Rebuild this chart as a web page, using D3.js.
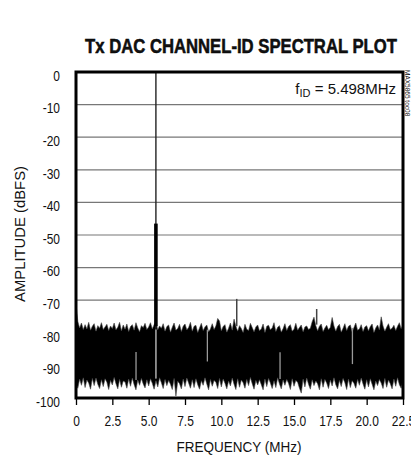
<!DOCTYPE html>
<html><head><meta charset="utf-8">
<script src="https://cdn.jsdelivr.net/npm/d3@7"></script>
<style>
html,body{margin:0;padding:0;background:#fff;}
svg{display:block;}
text{font-family:"Liberation Sans",Arial,sans-serif;fill:#111;}
</style></head>
<body><svg id="c" width="411" height="459"></svg>
<script>
// ---------- data ----------
const title = "Tx DAC CHANNEL-ID SPECTRAL PLOT";
const xLabel = "FREQUENCY (MHz)";
const yLabel = "AMPLITUDE (dBFS)";
const xTicks = [0, 2.5, 5.0, 7.5, 10.0, 12.5, 15.0, 17.5, 20.0, 22.5];
const xTickLabels = ["0","2.5","5.0","7.5","10.0","12.5","15.0","17.5","20.0","22.5"];
const yTicks = [0,-10,-20,-30,-40,-50,-60,-70,-80,-90,-100];
const yTickLabels = ["0","-10","-20","-30","-40","-50","-60","-70","-80","-90","-100"];
const freqStep = 0.125; // MHz between noise samples
// noise floor upper envelope (dBFS), 0 .. 22.5 MHz
const noiseTop = [
-71,-76.5,-78.5,-77,-79,-77.5,-78.8,-76.8,-79.2,-78,-77.2,-79.5,-77.8,-78.6,-76.9,-79,-78.2,-77.4,-79.3,-77.9,
-78.7,-77,-79.1,-78.3,-76.8,-79.4,-77.6,-78.9,-77.3,-79.6,-78.1,-77.5,-79.2,-76.9,-78.5,-79.7,-77.8,-78.4,-77.1,-79,
-78.2,-76.9,-78.8,-77.5,-76.7,-79.1,-77.9,-78.6,-77.2,-79.5,-78.1,-77.6,-79.8,-78.3,-77,-79.2,-78.7,-77.4,-79.6,-78,
-77.3,-79.1,-78.4,-76.8,-79.5,-78,-77.7,-79.9,-78.5,-77.1,-79.3,-78.2,-77.6,-79.7,-78.8,-77.2,-79,-77.9,-75.6,-76.4,
-79.4,-78.1,-77.5,-79.8,-78.6,-77,-79.2,-75.8,-78,-79.5,-77.8,-78.7,-79.9,-77.4,-78.9,-79.3,-77.1,-78.4,-79.7,-78.2,
-77.6,-79.4,-78.8,-77.3,-79.9,-78,-77.7,-79.1,-78.5,-76.9,-79.6,-78.3,-77.8,-79.8,-78.7,-77.2,-79.3,-78.1,-77.5,-79.5,
-78.9,-77.1,-79.2,-78.4,-77.6,-79.7,-78.2,-77.9,-79,-78.6,-76.6,-75.2,-77.8,-79.4,-78,-77.3,-79.6,-78.5,-77.7,-79.1,
-78.3,-75.3,-77.9,-79.5,-78.1,-77.4,-79.8,-78.6,-77.2,-79.3,-78,-77.6,-79.7,-78.4,-77,-79.2,-78.8,-77.5,-79.6,-78.2,
-77.8,-79.4,-78.1,-77.3,-79.9,-78.5,-77.6,-79.1,-75.1,-77.9,-79.5,-78.3,-77.2,-79,-78.6,-77.7,-79.3,-78,-76.9,-78.8,-77.5
];
// noise floor lower envelope (dBFS)
const noiseBottom = [
-95.5,-97,-94.2,-96.1,-93.8,-96.8,-94.5,-95.4,-97.3,-94,-96.2,-93.9,-95.8,-97.1,-94.4,-96.5,-94.1,-95.2,-97.4,-94.6,
-96,-93.7,-95.6,-97.2,-94.3,-96.7,-94.8,-95.1,-97,-94.2,-96.4,-93.9,-95.9,-97.5,-94.5,-96.1,-94,-95.7,-96.9,-94.4,
-96.3,-94.1,-95.5,-97.3,-94.7,-96.6,-93.8,-95.3,-97.1,-94.3,-96.2,-94.6,-95.8,-97.4,-94,-99.4,-94.9,-95.6,-97.2,-94.2,
-96.5,-93.9,-95.4,-97,-94.4,-96.8,-94.1,-95.9,-97.3,-94.7,-96.1,-93.8,-95.7,-97.5,-94.3,-96.4,-94.6,-95.2,-97.1,-94,
-96.6,-94.2,-95.5,-97.2,-94.8,-96.3,-93.9,-95.8,-97.4,-94.1,-96.7,-94.5,-95.3,-97,-94.3,-96.2,-93.7,-95.6,-97.3,-94.6,
-96,-94.4,-95.9,-97.5,-94.2,-96.5,-94,-95.4,-97.1,-94.7,-96.8,-93.8,-95.7,-97.2,-94.5,-96.1,-94.3,-95.5,-97.4,-94.1,
-96.4,-94.6,-95.2,-97,-98.5,-94.2,-96.6,-93.9,-95.8,-97.3,-94.4,-96.2,-94.8,-95.6,-97.5,-94.1,-96.7,-94.3,-95.4,-97.1,
-94.5,-96.3,-93.8,-95.9,-97.2,-94.6,-96.5,-94,-95.3,-97.4,-94.2,-96.8,-94.7,-95.5,-97,-94.3,-96.1,-93.9,-95.7,-97.3,
-94.4,-96.6,-94.1,-95.8,-97.5,-94.8,-96.2,-94.3,-95.4,-97.1,-94,-96.7,-94.5,-95.6,-97.2,-94.2,-96.4,-93.8,-95.9,-97,-94.6
];
// carrier tone
const toneFreq = 5.498, toneLevel = 0, toneSkirt = -46.5, toneBase = -79;
// spurs above the floor
const spurFreq = [11.06, 16.56];
const spurBase = [-78, -77.5];
const spurPeak = [-69.6, -72.7];
// lighter streaks inside the floor
const streakFreq = [4.13, 5.498, 9.04, 14.04, 19.02];
const streakTop = [-85.9, -79, -79, -86, -78.5];
const streakBottom = [-94.5, -94, -88.8, -94.2, -89.6];
const annotation = {f:"f", sub:"ID", rest:" = 5.498MHz"};
const code = "MAX5865 toc08";

// ---------- chart ----------
const svg = d3.select("#c");
const L = 76, R = 403, T = 72, B = 398;
const x = d3.scaleLinear().domain([0, 22.5]).range([L, R]);
const y = d3.scaleLinear().domain([-100, 0]).range([B, T]);

function fitText(sel, cx, cy, width, rot) {
  const len = sel.node().getComputedTextLength();
  const s = width / len;
  sel.attr("transform", `translate(${cx},${cy})` + (rot ? ` rotate(${rot})` : "") + ` scale(${s},1)`);
}

// gridlines
svg.append("g").selectAll("line").data(yTicks.filter(d => d > -100 && d < 0)).join("line")
  .attr("x1", L).attr("x2", R).attr("y1", d => y(d)).attr("y2", d => y(d))
  .attr("stroke", "#777").attr("stroke-width", 1.2);

// noise floor
const pts = noiseTop.map((t, i) => ({f: i * freqStep, t, b: noiseBottom[i]}));
const area = d3.area().x(d => x(d.f)).y0(d => y(d.b)).y1(d => y(d.t));
svg.append("path").datum(pts).attr("d", area).attr("fill", "#000")
  .attr("stroke", "#444").attr("stroke-width", 0.6);

// streaks
svg.append("g").selectAll("line").data(streakFreq).join("line")
  .attr("x1", d => x(d)).attr("x2", d => x(d))
  .attr("y1", (d, i) => y(streakTop[i])).attr("y2", (d, i) => y(streakBottom[i]))
  .attr("stroke", "#9a9a9a").attr("stroke-width", 1.3);

// spurs
svg.append("g").selectAll("line").data(spurFreq).join("line")
  .attr("x1", d => x(d)).attr("x2", d => x(d))
  .attr("y1", (d, i) => y(spurBase[i])).attr("y2", (d, i) => y(spurPeak[i]))
  .attr("stroke", "#444").attr("stroke-width", 1.5);

// tone
svg.append("line").attr("x1", x(toneFreq)).attr("x2", x(toneFreq))
  .attr("y1", y(toneBase)).attr("y2", y(toneLevel)).attr("stroke", "#222").attr("stroke-width", 1.4);
svg.append("line").attr("x1", x(toneFreq)).attr("x2", x(toneFreq))
  .attr("y1", y(toneBase + 1)).attr("y2", y(toneSkirt)).attr("stroke", "#000").attr("stroke-width", 3.6);
svg.append("line").attr("x1", x(toneFreq)).attr("x2", x(toneFreq))
  .attr("y1", y(streakTop[1])).attr("y2", y(streakBottom[1])).attr("stroke", "#9a9a9a").attr("stroke-width", 1.2);

// frame
svg.append("rect").attr("x", L).attr("y", T).attr("width", R - L).attr("height", B - T)
  .attr("fill", "none").attr("stroke", "#000").attr("stroke-width", 3);

// x axis
const xa = svg.append("g").attr("transform", `translate(0,${B + 1})`)
  .call(d3.axisBottom(x).tickValues(xTicks).tickSize(6).tickPadding(10)
    .tickFormat((d, i) => xTickLabels[i]));
xa.select(".domain").remove();
xa.selectAll(".tick line").attr("stroke", "#000").attr("stroke-width", 1.3);
xa.selectAll(".tick text").attr("font-size", 15).attr("fill", "#111")
  .attr("font-family", "Liberation Sans, Arial, sans-serif")
  .attr("transform", "scale(0.8,1)").attr("x", 0).attr("dy", "0.72em");

// y axis labels
const ya = svg.append("g").attr("transform", `translate(${L},0)`)
  .call(d3.axisLeft(y).tickValues(yTicks).tickSize(0).tickPadding(0)
    .tickFormat((d, i) => yTickLabels[i]));
ya.select(".domain").remove();
ya.selectAll(".tick text").attr("font-size", 15).attr("fill", "#111")
  .attr("font-family", "Liberation Sans, Arial, sans-serif")
  .attr("x", 0).attr("transform", "translate(-16,3.5) scale(0.8,1)");

// title
const tt = svg.append("text").attr("text-anchor", "middle")
  .attr("font-size", 20).attr("font-weight", "bold").attr("stroke", "#000").attr("stroke-width", 0.5)
  .text(title);
fitText(tt, 241, 53, 312);

// axis titles
const xt = svg.append("text").attr("text-anchor", "middle").attr("font-size", 15).text(xLabel);
fitText(xt, 239, 452, 125);
const yt = svg.append("text").attr("text-anchor", "middle").attr("font-size", 15).text(yLabel);
fitText(yt, 25, 234, 136, -90);

// annotation
const an = svg.append("text").attr("x", 396).attr("y", 94).attr("text-anchor", "end").attr("font-size", 15);
an.append("tspan").text(annotation.f);
an.append("tspan").attr("font-size", 11).attr("dy", 3).text(annotation.sub);
an.append("tspan").attr("dy", -3).text(annotation.rest);

// figure code
svg.append("text").attr("transform", "translate(405,70) rotate(90)").attr("font-size", 6.5)
  .attr("fill", "#999").text(code);
</script></body></html>
